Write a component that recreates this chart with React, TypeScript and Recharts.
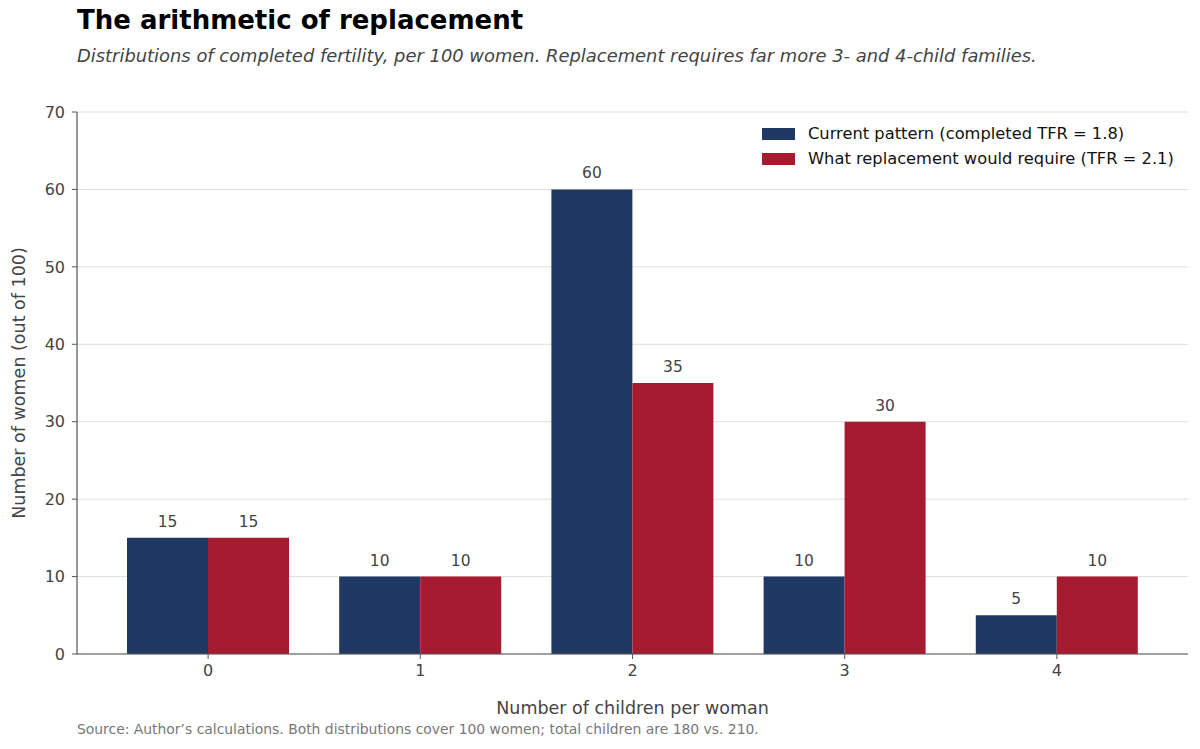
import React from 'react';
import { BarChart, Bar, XAxis, YAxis, CartesianGrid, LabelList } from 'recharts';

const children = ['0', '1', '2', '3', '4'];
const currentPattern = [15, 10, 60, 10, 5];
const replacementPattern = [15, 10, 35, 30, 10];
const yTicks = [0, 10, 20, 30, 40, 50, 60, 70];

const NAVY = '#203864';
const RED = '#a71b30';
const FONT = '"DejaVu Sans", sans-serif';

const data = children.map((c, i) => ({
  children: c,
  current: currentPattern[i],
  replacement: replacementPattern[i],
}));

const legendItems = [
  { label: 'Current pattern (completed TFR = 1.8)', color: NAVY },
  { label: 'What replacement would require (TFR = 2.1)', color: RED },
];

const App: React.FC = () => {
  return (
    <div
      style={{
        position: 'absolute',
        top: 0,
        left: 0,
        width: 1200,
        height: 749,
        background: '#fff',
        fontFamily: FONT,
      }}
    >
      <div style={{ position: 'absolute', left: 77, top: 5, fontSize: 26, fontWeight: 'bold', color: '#000' }}>
        The arithmetic of replacement
      </div>
      <div style={{ position: 'absolute', left: 77, top: 45, fontSize: 17.9, fontStyle: 'italic', color: '#444' }}>
        Distributions of completed fertility, per 100 women. Replacement requires far more 3- and 4-child families.
      </div>

      <BarChart
        width={1200}
        height={749}
        data={data}
        margin={{ top: 112, right: 12, bottom: 65, left: 0 }}
        barGap={0}
        barSize={81}
      >
        <CartesianGrid vertical={false} stroke="#dedede" strokeWidth={1} />
        <XAxis
          dataKey="children"
          padding={{ left: 25, right: 25 }}
          axisLine={{ stroke: '#555', strokeWidth: 1.2 }}
          tickLine={{ stroke: '#555' }}
          tickSize={5}
          tickMargin={6}
          tick={{ fill: '#444', fontSize: 16, fontFamily: FONT }}
          height={30}
          label={{
            value: 'Number of children per woman',
            position: 'bottom',
            offset: 18,
            style: { fill: '#444', fontSize: 17.5, fontFamily: FONT },
          }}
        />
        <YAxis
          width={77}
          domain={[0, 70]}
          ticks={yTicks}
          interval={0}
          axisLine={{ stroke: '#555', strokeWidth: 1.2 }}
          tickLine={{ stroke: '#555' }}
          tickSize={5}
          tickMargin={7}
          tick={{ fill: '#444', fontSize: 16, fontFamily: FONT }}
          label={{
            value: 'Number of women (out of 100)',
            angle: -90,
            position: 'insideLeft',
            offset: 19,
            style: { fill: '#444', fontSize: 17.5, fontFamily: FONT, textAnchor: 'middle' },
          }}
        />
        <Bar dataKey="current" fill={NAVY} isAnimationActive={false}>
          <LabelList dataKey="current" position="top" offset={11} style={{ fill: '#444', fontSize: 15.5, fontFamily: FONT }} />
        </Bar>
        <Bar dataKey="replacement" fill={RED} isAnimationActive={false}>
          <LabelList dataKey="replacement" position="top" offset={11} style={{ fill: '#444', fontSize: 15.5, fontFamily: FONT }} />
        </Bar>
      </BarChart>

      <div style={{ position: 'absolute', left: 762, top: 121, fontSize: 16.3, color: '#111' }}>
        {legendItems.map((item) => (
          <div key={item.label} style={{ display: 'flex', alignItems: 'center', height: 25 }}>
            <div style={{ width: 33, height: 12, background: item.color, marginRight: 13 }} />
            <span>{item.label}</span>
          </div>
        ))}
      </div>

      <div style={{ position: 'absolute', left: 77, top: 721, fontSize: 13.9, color: '#777' }}>
        Source: Author’s calculations. Both distributions cover 100 women; total children are 180 vs. 210.
      </div>
    </div>
  );
};

export default App;
